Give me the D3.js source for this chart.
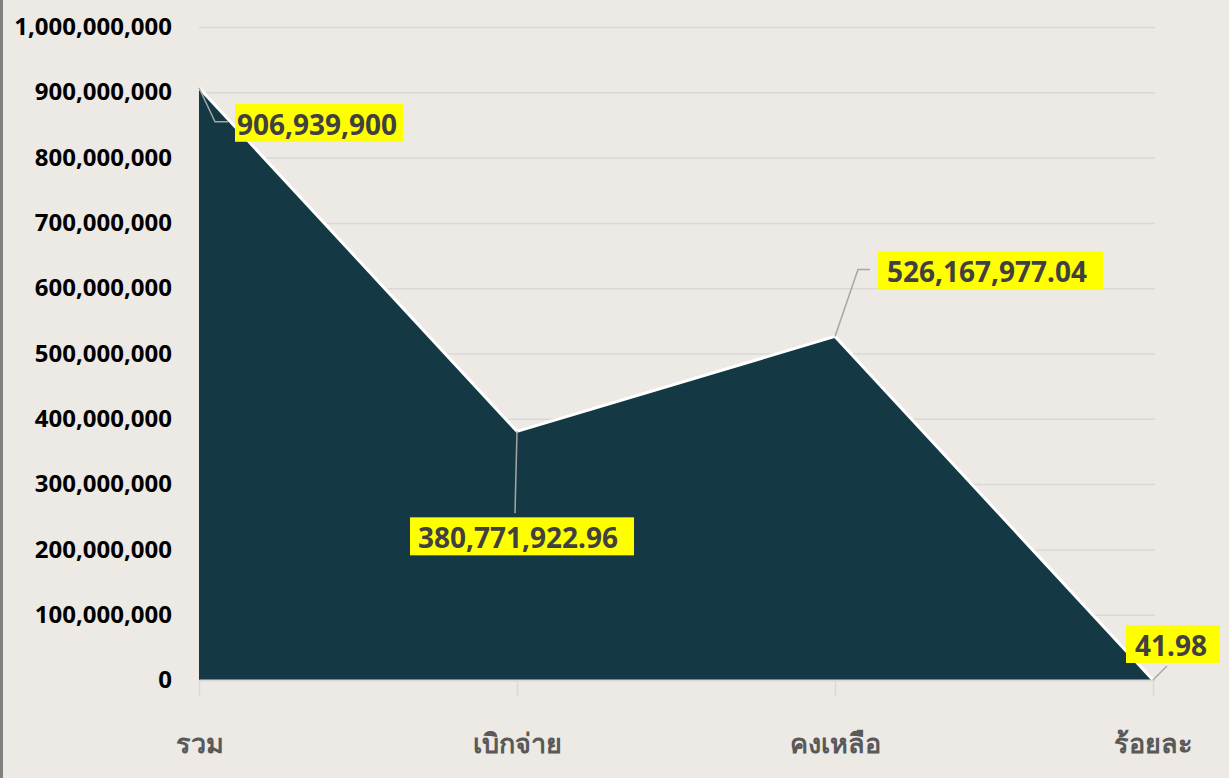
<!DOCTYPE html>
<html>
<head>
<meta charset="utf-8">
<script src="https://cdn.jsdelivr.net/npm/d3@7"></script>
<style>
  html, body { margin: 0; padding: 0; background: #ede9e5; }
  #chart { width: 1229px; height: 778px; }
</style>
</head>
<body>
<div id="chart"></div>
<script>
// DATA
const categories = ['รวม', 'เบิกจ่าย', 'คงเหลือ', 'ร้อยละ'];
const values = [906939900, 380771922.96, 526167977.04, 41.98];
const valueLabels = ['906,939,900', '380,771,922.96', '526,167,977.04', '41.98'];
const yTicks = [0, 100000000, 200000000, 300000000, 400000000, 500000000,
                600000000, 700000000, 800000000, 900000000, 1000000000];

// label offsets relative to the point (box left/top, padding, leader path)
const labelSpots = [
    { dx: 36, dy: 16, padL: 2, padR: 6, leader: [[0, 0], [16, 34], [29, 34]] },
    { dx: -107, dy: 86, padL: 8, padR: 16, leader: [[0, 0], [-2, 82]] },
    { dx: 43, dy: -85, padL: 9, padR: 16, leader: [[0, 0], [23, -67], [35, -67]] },
    { dx: -27, dy: -55, padL: 9, padR: 13, leader: [[0, 0], [14, -14]] }
];

const width = 1229, height = 778;
const margin = { top: 27, right: 76, bottom: 98, left: 199 };

const svg = d3.select('#chart').append('svg')
    .attr('width', width)
    .attr('height', height);

svg.append('rect').attr('width', width).attr('height', height).attr('fill', '#ede9e5');
// left border strip
svg.append('rect').attr('x', 0).attr('y', 0).attr('width', 3).attr('height', height).attr('fill', '#808080');

const x = d3.scalePoint()
    .domain(categories)
    .range([margin.left, width - margin.right]);

const y = d3.scaleLinear()
    .domain([0, 1000000000])
    .range([height - margin.bottom, margin.top]);

// GRID + Y AXIS
svg.append('g')
    .attr('transform', `translate(${margin.left},0)`)
    .call(d3.axisLeft(y).tickValues(yTicks).tickFormat(d3.format(',')).tickSize(0).tickPadding(27))
    .call(g => g.select('.domain').remove())
    .call(g => g.selectAll('.tick line').clone()
        .attr('x2', width - margin.right - margin.left + 2)
        .attr('stroke', '#d9d9d9')
        .attr('stroke-width', 1.5))
    .call(g => g.selectAll('text')
        .attr('fill', '#000')
        .style('font-family', '"Noto Sans", sans-serif')
        .style('font-weight', 'bold')
        .style('font-size', '24px'));

// AREA
const area = d3.area()
    .x((d, i) => x(categories[i]))
    .y0(y(0))
    .y1(d => y(d));

const line = d3.line()
    .x((d, i) => x(categories[i]))
    .y(d => y(d));

svg.append('path')
    .datum(values)
    .attr('fill', '#143945')
    .attr('d', area);

svg.append('path')
    .datum(values)
    .attr('fill', 'none')
    .attr('stroke', '#fff')
    .attr('stroke-width', 3)
    .attr('d', line);

// X AXIS
svg.append('g')
    .attr('transform', `translate(0,${y(0)})`)
    .call(d3.axisBottom(x).tickSize(16).tickPadding(38).tickSizeOuter(0))
    .call(g => g.select('.domain').attr('stroke', '#d9d9d9').attr('stroke-width', 2))
    .call(g => g.selectAll('.tick line').attr('stroke', '#d9d9d9').attr('stroke-width', 1.5))
    .call(g => g.selectAll('text')
        .attr('fill', '#595959')
        .style('font-family', '"Noto Sans", sans-serif')
        .style('font-weight', 'bold')
        .style('font-size', '27px'));

// DATA LABELS
values.forEach((v, i) => {
    const px = x(categories[i]), py = y(v);
    const spot = labelSpots[i];
    svg.append('path')
        .attr('d', d3.line()(spot.leader.map(p => [px + p[0], py + p[1]])))
        .attr('fill', 'none')
        .attr('stroke', '#a6a6a6')
        .attr('stroke-width', 1.5);

    const g = svg.append('g').attr('transform', `translate(${px + spot.dx},${py + spot.dy})`);
    const rect = g.append('rect').attr('fill', '#ffff00');
    const t = g.append('text')
        .attr('x', spot.padL)
        .attr('y', 31)
        .attr('fill', '#404040')
        .style('font-family', '"Noto Sans", sans-serif')
        .style('font-weight', 'bold')
        .style('font-size', '28px')
        .text(valueLabels[i]);
    const w = t.node().getComputedTextLength();
    rect.attr('width', w + spot.padL + spot.padR).attr('height', 38);
});
</script>
</body>
</html>
